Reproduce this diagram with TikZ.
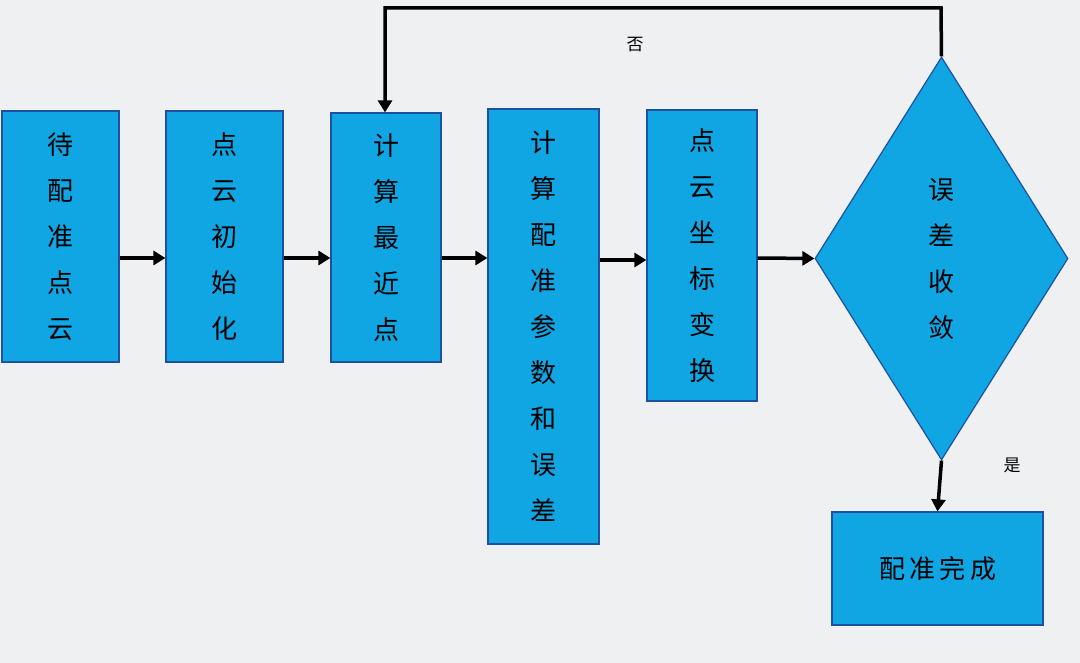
\documentclass[tikz,border=0pt]{standalone}
\usepackage{fontspec}
\newfontfamily\cjk{Noto Sans CJK SC}
\usetikzlibrary{shapes.geometric,arrows.meta}
\definecolor{boxfill}{RGB}{16,166,228}
\definecolor{boxline}{RGB}{30,80,160}
\definecolor{bg}{RGB}{238,240,242}
\tikzset{
  stage/.style={draw=boxline,fill=boxfill,line width=1.2pt,align=center,inner sep=0pt,
    font=\cjk\fontsize{26}{46}\selectfont},
  flow/.style={line width=3.5pt,-{Triangle[length=12pt,width=14pt]}}
}
\begin{document}
\begin{tikzpicture}[x=1pt,y=-1pt]
    \fill[bg] (0,0) rectangle (1080,663);
    \useasboundingbox (0,0) rectangle (1080,663);
    % boxes
    \node[stage,minimum width=117pt,minimum height=251pt] (pcs) at (60.5,236.5) {待\\配\\准\\点\\云};
    \node[stage,minimum width=117pt,minimum height=251pt] (init) at (224.5,236.5) {点\\云\\初\\始\\化};
    \node[stage,minimum width=110pt,minimum height=249pt] (near) at (386,237.5) {计\\算\\最\\近\\点};
    \node[stage,minimum width=111pt,minimum height=435pt] (param) at (543.5,326.5) {计\\算\\配\\准\\参\\数\\和\\误\\差};
    \node[stage,minimum width=110pt,minimum height=291pt] (trans) at (702,255.5) {点\\云\\坐\\标\\变\\换};
    \node[stage,diamond,minimum width=253pt,minimum height=403pt] (conv) at (941.5,258.5) {误\\差\\收\\敛};
    \node[stage,minimum width=211pt,minimum height=113pt] (done) at (937.5,568.5) {配\,准\,完\,成};
    % connectors
    \draw[flow] (pcs.east|-0,258) -- (init.west|-0,258);
    \draw[flow] (init.east|-0,258) -- (near.west|-0,258);
    \draw[flow] (near.east|-0,258) -- (param.west|-0,258);
    \draw[flow] (param.east|-0,260) -- (trans.west|-0,260);
    \draw[flow] (trans.east|-0,258) -- (conv.west);
    \draw[flow] (conv.south) -- (done.north);
    \coordinate (top) at (941,8);
    \coordinate (back) at (385,8);
    \draw[flow] (conv.north) -- (top) -- (back) -- (near.north-|back);
    % labels
    \node[font=\cjk\fontsize{17}{20}\selectfont] (no) at (635,45) {否};
    \node[font=\cjk\fontsize{17}{20}\selectfont] (yes) at (1012,465) {是};
\end{tikzpicture}
\end{document}
